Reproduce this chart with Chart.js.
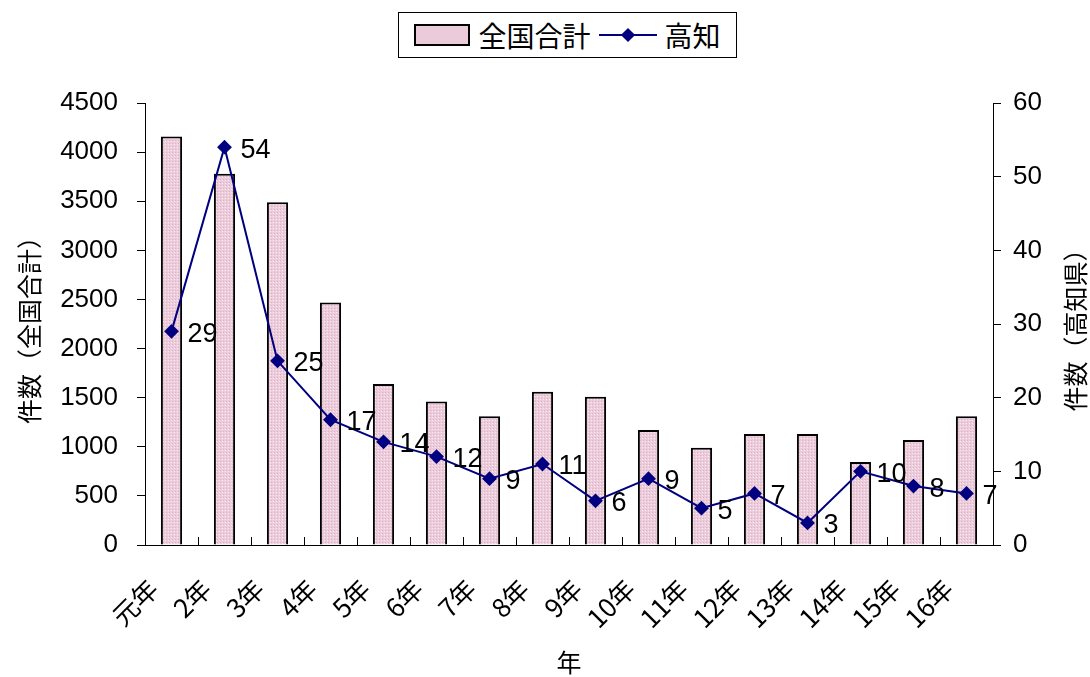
<!DOCTYPE html>
<html>
<head>
<meta charset="utf-8">
<script src="https://cdn.jsdelivr.net/npm/chart.js@4"></script>
<style>
  body { margin: 0; background: #fff; }
  #wrap { position: relative; width: 1090px; height: 677px; }
  #leyenda {
    position: absolute; left: 398px; top: 12px; width: 337px; height: 44px;
    border: 1px solid #000; background: #fff; box-sizing: content-box;
    display: flex; align-items: center; justify-content: center;
    font-family: "Noto Sans CJK JP", sans-serif; font-size: 28px; color: #000;
  }
  #leyenda span { margin-right: 8px; }
</style>
</head>
<body>
<div id="wrap">
  <canvas id="grafico" width="1090" height="677"></canvas>
  <div id="leyenda"></div>
</div>
<script>
// Datos del gráfico
const categorias = ['元年', '2年', '3年', '4年', '5年', '6年', '7年', '8年', '9年', '10年', '11年', '12年', '13年', '14年', '15年', '16年'];
const totalNacional = [4160, 3780, 3490, 2470, 1640, 1460, 1310, 1560, 1510, 1170, 990, 1130, 1130, 845, 1070, 1310];
const kochi = [29, 54, 25, 17, 14, 12, 9, 11, 6, 9, 5, 7, 3, 10, 8, 7];
const ticksIzq = [0, 500, 1000, 1500, 2000, 2500, 3000, 3500, 4000, 4500];
const ticksDer = [0, 10, 20, 30, 40, 50, 60];

const fuenteLatina = '"Liberation Sans", Arial, "Noto Sans CJK JP", sans-serif';
const fuenteJp = '"Noto Sans CJK JP", sans-serif';

// Patrón rosa punteado de las barras
function crearPatron() {
    const c = document.createElement('canvas');
    c.width = 3; c.height = 3;
    const g = c.getContext('2d');
    g.fillStyle = '#ecccdb';
    g.fillRect(0, 0, 3, 3);
    g.fillStyle = '#f8ecf2';
    g.fillRect(0, 0, 1, 1);
    g.fillStyle = '#dbb3c6';
    g.fillRect(1, 2, 1, 1);
    return g.createPattern(c, 'repeat');
}
const patron = crearPatron();

// Leyenda en HTML
const leyenda = document.getElementById('leyenda');
leyenda.innerHTML =
    '<svg width="56" height="24" style="margin-right:8px"><rect x="1" y="2" width="54" height="20" fill="#ebcbda" stroke="#000" stroke-width="2"/></svg>' +
    '<span>全国合計</span>' +
    '<svg width="58" height="24" style="margin-right:8px"><line x1="0" y1="12" x2="58" y2="12" stroke="#000080" stroke-width="2"/><rect x="24" y="7" width="10" height="10" fill="#000080" transform="rotate(45 29 12)"/></svg>' +
    '<span style="margin-right:0">高知</span>';

// Etiquetas de valores de 高知
const etiquetasDatos = {
    id: 'etiquetasDatos',
    afterDatasetsDraw(chart) {
        const ctx = chart.ctx;
        const meta = chart.getDatasetMeta(1);
        ctx.save();
        ctx.font = '27px ' + fuenteLatina;
        ctx.fillStyle = '#000';
        ctx.textAlign = 'left';
        ctx.textBaseline = 'middle';
        meta.data.forEach((p, i) => {
            ctx.fillText(String(kochi[i]), p.x + 16, p.y + 3);
        });
        ctx.restore();
    }
};

// Marcas internas del eje X y título del eje derecho
const extras = {
    id: 'extras',
    afterDraw(chart) {
        const ctx = chart.ctx;
        const x = chart.scales.x;
        const area = chart.chartArea;
        ctx.save();
        ctx.strokeStyle = '#000';
        ctx.lineWidth = 1;
        ctx.beginPath();
        for (let i = 0; i <= categorias.length; i++) {
            const px = Math.round(x.getPixelForValue(i - 0.5)) + 0.5;
            ctx.moveTo(px, area.bottom);
            ctx.lineTo(px, area.bottom - 8);
        }
        ctx.stroke();
        ctx.translate(1075, (area.top + area.bottom) / 2);
        ctx.rotate(-Math.PI / 2);
        ctx.font = '25px ' + fuenteJp;
        ctx.fillStyle = '#000';
        ctx.textAlign = 'center';
        ctx.textBaseline = 'middle';
        ctx.fillText('件数（高知県）', 0, 0);
        ctx.restore();
    }
};

const ctx = document.getElementById('grafico').getContext('2d');
new Chart(ctx, {
    data: {
        labels: categorias,
        datasets: [{
            type: 'bar',
            label: '全国合計',
            data: totalNacional,
            yAxisID: 'y',
            backgroundColor: patron,
            borderColor: '#000',
            borderWidth: 2,
            borderSkipped: 'bottom',
            barPercentage: 0.4,
            categoryPercentage: 1.0,
            order: 2
        }, {
            type: 'line',
            label: '高知',
            data: kochi,
            yAxisID: 'y1',
            borderColor: '#000080',
            backgroundColor: '#000080',
            borderWidth: 2,
            pointStyle: 'rectRot',
            pointRadius: 6,
            tension: 0,
            order: 1
        }]
    },
    options: {
        responsive: false,
        animation: false,
        layout: { padding: { top: 103, left: 0, right: 0, bottom: 0 } },
        plugins: {
            legend: { display: false },
            tooltip: { enabled: false }
        },
        scales: {
            x: {
                offset: true,
                grid: { display: false, drawTicks: false },
                border: { color: '#000', width: 1 },
                ticks: {
                    color: '#000',
                    font: { family: fuenteJp, size: 26 },
                    minRotation: 45,
                    maxRotation: 45,
                    padding: 28,
                    labelOffset: -18
                },
                title: {
                    display: true, text: '年', color: '#000',
                    font: { family: fuenteJp, size: 25 },
                    padding: { top: 0, bottom: 0 }
                },
                afterFit(s) { s.height = 132; }
            },
            y: {
                position: 'left',
                min: 0, max: 4500,
                afterBuildTicks(s) { s.ticks = ticksIzq.map(v => ({ value: v })); },
                grid: { drawOnChartArea: false, tickLength: 8, color: '#000' },
                border: { color: '#000', width: 1 },
                ticks: {
                    color: '#000',
                    font: { family: fuenteLatina, size: 26 },
                    padding: 19,
                    callback: v => String(v)
                },
                title: {
                    display: true, text: '件数（全国合計）', color: '#000',
                    font: { family: fuenteJp, size: 25 },
                    padding: { top: 14, bottom: 0 }
                },
                afterFit(s) { s.width = 145; }
            },
            y1: {
                position: 'right',
                min: 0, max: 60,
                afterBuildTicks(s) { s.ticks = ticksDer.map(v => ({ value: v })); },
                grid: { drawOnChartArea: false, tickLength: 8, color: '#000' },
                border: { color: '#000', width: 1 },
                ticks: {
                    color: '#000',
                    font: { family: fuenteLatina, size: 26 },
                    padding: 12,
                    callback: v => String(v)
                },
                afterFit(s) { s.width = 97; }
            }
        }
    },
    plugins: [etiquetasDatos, extras]
});
</script>
</body>
</html>
